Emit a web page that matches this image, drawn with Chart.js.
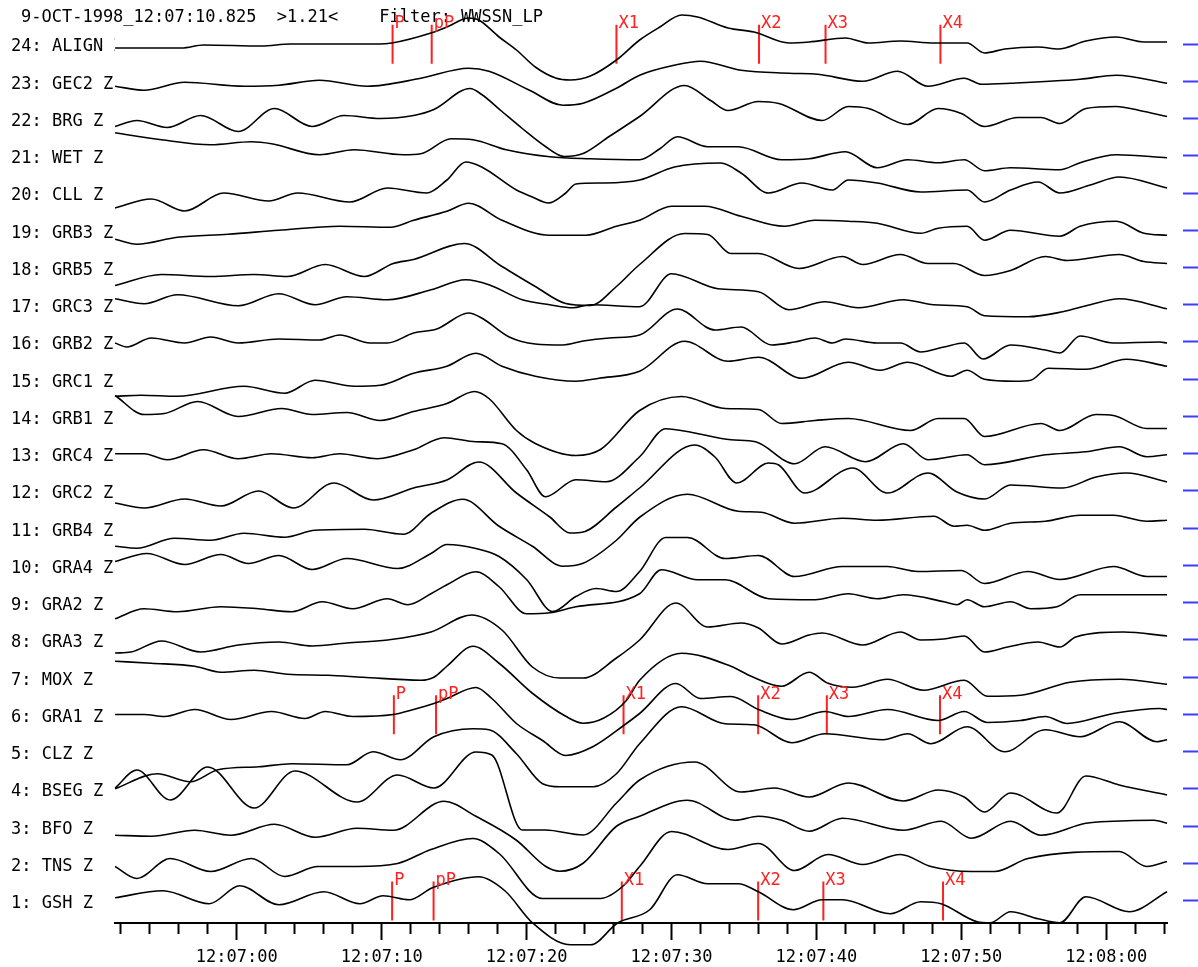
<!DOCTYPE html>
<html><head><meta charset="utf-8">
<script src="https://cdn.jsdelivr.net/npm/chart.js@4.4.1/dist/chart.umd.min.js"></script>
<style>html,body{margin:0;padding:0;background:#fff;}canvas{display:block;}</style>
</head><body>
<canvas id="c" width="1198" height="967"></canvas>
<script>
// ---- header / labels ----
const headerText = "9-OCT-1998_12:07:10.825  >1.21<    Filter: WWSSN_LP";
const stationLabels = ["1: GSH Z","2: TNS Z","3: BFO Z","4: BSEG Z","5: CLZ Z","6: GRA1 Z","7: MOX Z","8: GRA3 Z","9: GRA2 Z","10: GRA4 Z","11: GRB4 Z","12: GRC2 Z","13: GRC4 Z","14: GRB1 Z","15: GRC1 Z","16: GRB2 Z","17: GRC3 Z","18: GRB5 Z","19: GRB3 Z","20: CLL Z","21: WET Z","22: BRG Z","23: GEC2 Z","24: ALIGN Z"];
const traceNumbers = [1,2,3,4,5,6,7,8,9,10,11,12,13,14,15,16,17,18,19,20,21,22,23,24];
// seconds after 12:07:00
const xTickValues = [-8,-6,-4,-2,0,2,4,6,8,10,12,14,16,18,20,22,24,26,28,30,32,34,36,38,40,42,44,46,48,50,52,54,56,58,60,62,64];
const xLabelValues = [0,10,20,30,40,50,60];
const xLabelTexts = ["12:07:00","12:07:10","12:07:20","12:07:30","12:07:40","12:07:50","12:08:00"];

// ---- traces: time (s after 12:07:00) and deflection (counts, up = positive) ----
const gshT = [-8.4,-5.1,-1.9,0.2,2.9,6.0,8.5,10.1,11.9,13.5,16.7,18.5,20.4,23.0,24.4,26.3,28.5,30.4,32.5,34.6,36.0,38.4,40.4,41.8,45.1,47.2,48.6,51.1,52.0,53.4,55.3,56.8,58.6,61.6,64.2];
const gshA = [3,10,-3,15,-4,9,-3,5,1,13,24,10,-22,-44,-44,-22,-9,26,17,17,9,-9,1,1,-13,-1,-3,-21,-22,-11,-18,-22,4,-11,9];
const tnsT = [-8.4,-6.9,-4.6,-1.8,1.0,3.3,5.6,8.3,11.1,13.4,16.3,18.1,21.1,22.7,25.1,26.7,27.8,30.0,33.9,36.0,38.5,40.8,43.2,45.8,47.9,50.7,52.3,54.6,60.9,62.8,64.2];
const tnsA = [-3,-15,5,-8,5,-13,-3,-3,0,14,25,10,-35,-35,-35,-22,-3,32,14,20,-7,9,-1,9,-3,-8,-8,5,12,-3,2];
const bfoT = [-8.4,-5.9,-2.9,-0.4,2.6,5.4,8.3,10.8,14.3,16.5,19.3,21.3,22.3,23.9,26.2,27.8,31.1,34.4,36.0,37.6,39.5,41.8,46.0,48.6,50.7,53.4,55.5,58.6,60.5,63.3,64.2];
const bfoA = [-9,-10,-4,-9,2,-11,-2,-4,25,10,-14,-40,-45,-37,0,10,26,6,10,6,-5,8,-4,5,-12,5,-9,3,5,6,3];
const bsegT = [-8.4,-6.9,-4.6,-2.0,1.2,4.0,8.3,11.1,13.6,16.5,17.6,19.7,21.3,23.9,26.2,27.8,31.6,34.8,37.1,39.5,42.2,46.0,48.4,50.2,51.6,53.4,56.6,58.6,60.9,64.2];
const bsegA = [1,19,-11,22,-19,18,-13,14,1,37,34,-41,-41,-46,-14,9,27,-3,1,-8,6,-12,-1,-8,-23,-4,-24,13,4,-6];
const clzT = [-8.4,-5.5,-3.2,-1.3,1.5,3.8,7.6,9.4,11.3,13.6,16.3,17.4,19.3,21.1,22.3,24.6,26.2,27.8,30.7,33.7,35.7,38.3,40.6,44.6,46.3,47.9,50.4,53.0,55.8,58.2,60.9,63.5,64.2];
const clzA = [-37,-22,-30,-18,-15,-12,-13,0,-8,15,23,22,-2,-32,-35,-35,-22,8,45,28,27,9,18,12,18,8,25,0,22,15,30,10,12];
const gra1T = [-8.4,-6.4,-5.0,-2.9,-0.4,2.4,4.7,6.1,8.0,10.8,12.2,13.6,14.5,16.5,17.6,19.3,21.1,22.7,24.6,26.7,27.8,30.3,32.0,34.1,36.0,38.3,40.6,42.2,44.9,48.4,50.2,51.8,54.1,55.8,57.3,60.5,63.7,64.2];
const gra1A = [0,0,-2,5,-5,3,-4,3,-2,0,5,11,16,27,16,-9,-26,-41,-32,-11,1,31,16,18,5,-5,3,-2,5,-6,3,-8,-6,-2,-9,1,6,5];
const moxT = [-8.4,-5.9,-2.9,-1.1,1.2,3.5,6.3,8.7,12.7,13.6,14.5,16.3,18.1,20.4,22.7,23.9,25.3,26.9,27.8,30.7,34.1,35.5,37.6,39.5,40.8,42.5,44.9,47.4,50.2,51.8,54.1,57.5,61.0,64.2];
const moxA = [16,14,11,5,7,3,2,0,-3,0,11,31,14,-16,-39,-46,-41,-23,-3,24,11,1,-9,5,-6,-10,-2,-13,-3,-19,-18,-5,-2,-7];
const gra3T = [-8.4,-7.3,-5.2,-2.5,0.1,2.9,5.2,7.6,10.4,13.4,16.2,18.3,20.4,22.3,23.9,26.2,27.8,30.3,32.5,34.8,36.0,37.6,39.5,40.4,43.2,45.8,47.2,48.8,50.2,51.6,53.2,55.3,56.8,57.9,61.2,64.2];
const gra3A = [-13,-12,-1,-12,-5,-2,-6,-3,0,8,25,10,-27,-38,-38,-18,0,37,13,17,12,-4,5,7,-5,8,0,1,4,-12,-7,-2,-7,3,8,4];
const gra2T = [-8.4,-6.4,-4.1,-1.1,1.5,3.8,5.9,8.0,10.4,11.8,13.4,14.5,16.5,18.1,20.0,21.6,23.4,27.8,29.3,31.8,33.7,36.7,39.9,42.2,44.2,46.0,48.8,49.7,50.4,51.6,53.4,54.8,56.6,58.2,61.4,64.2];
const gra2A = [-16,-6,-9,-4,-6,-9,1,-6,4,-2,9,18,31,16,-11,-10,-4,9,33,23,23,4,3,9,4,8,1,-2,3,-4,1,-6,-4,8,8,8];
const gra4T = [-8.4,-6.2,-3.6,-1.1,0.8,2.9,5.2,7.6,11.1,13.4,14.5,16.5,18.1,20.0,21.8,23.4,24.8,26.2,27.8,29.6,31.1,33.7,36.0,38.5,41.8,44.9,47.0,50.0,51.6,54.6,56.8,60.5,62.8,64.2];
const gra4A = [4,12,1,11,2,10,-4,7,-3,12,21,17,9,-14,-46,-31,-23,-26,-6,28,28,7,10,-11,-1,-1,-6,-5,-18,-6,-14,-1,-11,-11];
const grb4T = [-8.4,-6.9,-4.3,-1.8,0.5,3.3,5.4,8.8,11.5,13.4,15.6,18.1,20.4,22.5,23.9,26.2,27.8,31.1,34.6,36.2,38.5,41.8,44.2,48.1,49.5,50.4,51.6,53.4,55.8,58.2,60.5,62.8,64.2];
const grb4A = [-18,-20,-10,-12,-5,-9,-2,-1,-6,15,29,2,-18,-38,-35,-12,11,34,17,16,5,10,8,12,2,3,-2,5,7,13,13,7,8];
const grc2T = [-8.4,-6.4,-3.6,-1.1,1.5,3.9,6.7,9.4,12.2,14.5,16.7,19.3,21.6,23.0,23.9,26.2,27.8,31.6,33.0,34.5,36.7,37.4,39.2,42.5,44.9,47.7,49.7,51.6,53.4,57.0,59.3,61.4,64.2];
const grc2A = [-12,-17,-8,-15,0,-17,8,-9,3,11,29,-2,-26,-42,-41,-16,3,46,34,8,28,26,-2,23,-2,18,-1,-8,6,3,14,18,9];
const grc4T = [-8.4,-6.4,-4.8,-2.3,0.1,2.4,5.2,7.1,9.7,12.2,14.3,16.5,18.3,20.0,21.3,23.4,25.5,27.8,29.6,31.5,34.1,35.8,38.5,40.6,43.4,46.0,47.7,50.4,51.6,55.8,58.6,60.9,62.8,64.2];
const grc4A = [0,0,-6,4,-5,0,-4,0,-5,4,16,12,10,-16,-43,-26,-28,-3,25,21,14,12,-10,7,-8,10,-6,-1,-11,-1,2,7,-3,-1];
const grb1T = [-8.4,-6.4,-5.0,-2.7,0.1,3.1,5.2,7.6,9.9,12.2,14.5,16.4,17.4,19.3,20.6,23.4,25.1,27.8,30.7,33.7,36.0,37.6,39.9,42.2,46.5,48.4,50.2,51.6,55.5,56.8,59.3,60.5,62.8,64.2];
const grb1A = [21,2,3,15,0,8,2,4,-4,5,13,25,18,-14,-27,-39,-33,6,20,8,7,-7,-4,-2,-14,-2,-2,-20,-7,-14,2,1,-12,-12];
const grc1T = [-8.4,-6.6,-4.1,0.5,3.3,5.4,8.1,9.9,12.2,14.5,16.5,18.3,20.6,23.4,25.0,27.8,30.9,33.9,36.0,39.0,42.2,44.4,46.3,49.3,50.4,51.6,53.7,54.8,56.0,58.6,61.4,64.2];
const grc1A = [-17,-16,-17,-7,-14,-1,-7,-6,6,13,26,13,3,-2,1,8,38,18,22,1,17,9,17,3,9,0,-2,-1,11,10,20,13];
const grb2T = [-8.4,-7.6,-5.9,-3.6,-1.8,0.1,2.9,5.7,7.1,9.2,10.4,12.2,13.8,16.0,16.9,18.8,20.6,22.5,23.9,25.7,27.8,30.4,33.0,34.8,36.9,38.5,39.9,41.1,42.0,44.2,45.8,47.2,48.8,50.2,51.5,53.4,55.8,56.8,58.2,60.5,63.7,64.2];
const grb2A = [-1,-5,4,-1,5,-1,3,2,7,-1,-1,9,13,29,24,5,-2,-3,1,4,7,33,12,15,-3,0,4,-1,3,-1,-1,-10,-5,-1,-17,-3,-8,-11,6,-1,0,-1];
const grc3T = [-8.4,-6.4,-4.1,0.1,2.9,5.4,7.6,10.4,13.4,15.8,17.4,19.7,21.6,23.2,24.4,27.8,30.0,33.2,36.0,38.1,40.6,42.9,46.0,48.1,50.4,51.6,54.6,57.0,58.9,60.9,64.2];
const grc3A = [6,1,10,-1,11,0,8,5,15,25,20,5,0,-3,0,-2,31,16,13,-5,3,-3,5,0,-2,-11,-12,-7,0,6,-4];
const grb5T = [-8.4,-5.2,-1.8,1.2,3.5,6.1,8.8,10.8,12.2,15.7,18.3,20.6,22.7,24.4,26.2,27.8,30.9,32.5,34.1,36.0,38.8,41.8,43.2,45.8,47.7,49.5,51.6,53.4,55.8,57.3,60.9,62.6,64.2];
const grb5A = [-18,-7,-9,-7,-9,3,-9,4,8,24,1,-19,-36,-38,-19,3,34,33,14,14,-1,11,3,13,4,4,-8,-3,11,7,13,6,4];
const grb3T = [-8.4,-6.9,-4.1,-0.6,2.9,7.1,10.6,12.2,14.5,16.0,18.3,21.6,24.1,26.2,27.8,30.0,32.3,34.8,37.8,39.9,42.2,44.2,47.2,48.4,50.4,51.6,53.4,56.8,58.2,60.7,62.6,64.2];
const grb3A = [-9,-14,-7,-4,0,4,3,10,19,27,10,-5,-5,4,10,24,24,14,4,10,9,7,-3,2,4,-10,0,-6,4,9,-3,-5];
const cllT = [-8.4,-5.9,-3.6,-0.9,2.2,4.2,7.8,10.4,13.1,14.5,15.8,16.9,19.3,20.4,21.5,22.7,23.4,25.3,27.8,30.2,33.4,34.8,36.7,39.0,41.1,42.2,44.2,47.2,50.4,51.6,53.4,55.3,56.8,58.9,60.9,64.2];
const cllA = [-15,-6,-18,0,-8,0,-9,5,0,13,31,26,3,-4,-10,0,9,10,13,26,30,20,0,10,3,13,10,1,3,-9,3,11,0,8,16,5];
const wetT = [-8.4,-5.2,-1.8,1.0,2.4,5.7,8.1,11.5,12.7,14.8,16.3,18.6,21.6,24.4,27.8,29.2,30.4,32.5,34.6,37.6,39.5,42.0,44.2,46.3,48.4,50.2,51.6,53.4,56.8,58.2,60.7,64.2];
const wetA = [23,16,11,14,12,1,6,1,2,17,16,6,-1,-3,-4,7,19,9,9,-4,-3,4,-12,-4,-7,-4,-15,-12,-14,-7,1,-2];
const brgT = [-8.4,-6.9,-4.8,-2.5,0.1,2.6,5.2,7.4,9.9,12.2,13.6,16.1,16.9,18.3,19.7,21.3,22.6,23.9,25.7,27.8,30.9,32.7,33.9,36.0,37.4,40.4,42.2,43.6,46.3,48.4,50.0,51.6,53.9,55.5,56.8,58.6,60.7,62.3,64.2];
const brgA = [-8,-2,-9,3,-13,10,-8,3,0,3,9,30,24,7,-10,-28,-38,-35,-18,2,33,18,8,17,15,-2,12,10,-6,10,5,-8,1,1,-5,10,12,8,2];
const gec2T = [-8.4,-6.4,-3.6,0.5,2.9,5.7,9.0,12.7,16.0,17.4,20.2,22.5,23.9,26.2,27.8,30.2,32.0,34.8,38.1,40.1,43.2,45.6,47.7,50.2,51.4,53.4,58.2,60.7,64.2];
const gec2A = [-5,-9,-1,-5,-4,1,-5,3,13,10,-9,-24,-22,-7,6,16,20,11,8,7,0,10,-5,3,-3,-2,2,6,-2];
const alignT = [-8.4,-3.8,-2.3,1.7,3.7,9.8,10.7,13.4,14.5,16.0,16.7,18.1,19.3,20.6,22.0,23.0,24.4,26.2,27.8,29.2,30.7,31.8,33.9,35.7,38.1,39.5,42.0,43.6,45.8,48.1,50.4,51.6,53.0,55.3,56.7,58.6,60.7,62.6,64.2];
const alignA = [-4,-4,-1,-2,0,0,1,11,17,26,24,7,-6,-23,-34,-36,-32,-16,4,17,29,27,16,12,1,2,6,1,3,1,1,-9,-5,-3,-5,3,7,2,2];

const traceTimes = [gshT,tnsT,bfoT,bsegT,clzT,gra1T,moxT,gra3T,gra2T,gra4T,grb4T,grc2T,grc4T,grb1T,grc1T,grb2T,grc3T,grb5T,grb3T,cllT,wetT,brgT,gec2T,alignT];
const traceAmps  = [gshA,tnsA,bfoA,bsegA,clzA,gra1A,moxA,gra3A,gra2A,gra4A,grb4A,grc2A,grc4A,grb1A,grc1A,grb2A,grc3A,grb5A,grb3A,cllA,wetA,brgA,gec2A,alignA];

// ---- phase picks ----
const pickNames = ["P","pP","X1","X2","X3","X4"];
const picksTrace24 = [10.75,13.45,26.2,36.04,40.63,48.56];
const picksTrace6  = [10.84,13.75,26.69,35.98,40.72,48.53];
const picksTrace1  = [10.72,13.58,26.57,35.98,40.48,48.74];
const pickTraces = [24,6,1];
const pickTimes = [picksTrace24,picksTrace6,picksTrace1];

// ---- build chart ----
const countsPerSpacing = 37.25;
const FONT = '"DejaVu Sans Mono", "Liberation Mono", monospace';
const yMin = 0.40268, yMax = 25.18121;

const datasets = traceNumbers.map((n, i) => ({
  label: stationLabels[i],
  data: traceTimes[i].map((t, k) => ({x: t, y: n + traceAmps[i][k] / countsPerSpacing})),
  borderColor: '#000', borderWidth: 1.6, pointRadius: 0, fill: false,
  cubicInterpolationMode: 'monotone', clip: false
}));
const pickData = [];
pickTraces.forEach((n, g) => pickTimes[g].forEach(t => {
  pickData.push({x: t, y: n - 0.53}, {x: t, y: n + 0.52}, {x: t, y: null});
}));
datasets.push({label: 'picks', data: pickData, borderColor: '#ff2020', borderWidth: 2,
  pointRadius: 0, tension: 0, spanGaps: false, clip: false});

const overlay = {
  id: 'overlay',
  beforeDatasetsDraw(chart) {
    const ctx = chart.ctx;
    ctx.save();
    ctx.font = '17px ' + FONT;
    ctx.fillStyle = '#000';
    ctx.textBaseline = 'middle';
    ctx.textAlign = 'left';
    ctx.fillText(headerText, 21, 17.5);
    ctx.restore();
  },
  afterDatasetsDraw(chart) {
    const {ctx, scales} = chart;
    ctx.save();
    ctx.font = '17px ' + FONT;
    ctx.fillStyle = '#ff2020';
    ctx.textBaseline = 'middle';
    ctx.textAlign = 'left';
    pickTraces.forEach((n, g) => pickTimes[g].forEach((t, k) => {
      const px = scales.x.getPixelForValue(t);
      const py = scales.y.getPixelForValue(n + 0.52);
      ctx.fillText(pickNames[k], px + 2, py - 1);
    }));
    ctx.restore();
  }
};

Chart.defaults.font.family = FONT;
Chart.defaults.font.size = 17;
Chart.defaults.color = '#000';

const noVPad = s => { s.paddingTop = 0; s.paddingBottom = 0; };

new Chart(document.getElementById('c'), {
  type: 'line',
  data: {datasets},
  options: {
    responsive: false, animation: false, devicePixelRatio: 1, events: [],
    layout: {padding: {left: 11, top: 0, right: 0, bottom: 0}},
    plugins: {legend: {display: false}, tooltip: {enabled: false}, title: {display: false}},
    scales: {
      x: {
        type: 'linear', position: 'bottom', min: -8.406, max: 64.196,
        afterBuildTicks: s => { s.ticks = xTickValues.map(v => ({value: v})); },
        afterFit: s => { s.height = 44; s.paddingLeft = 0; s.paddingRight = 0; },
        grid: {display: true, drawOnChartArea: false, drawTicks: true, tickLength: 17, tickWidth: 2, tickColor: '#000',
          tickBorderDash: c => (c.tick && c.tick.value % 10 === 0) ? [] : [10, 40]},
        border: {display: true, color: '#000', width: 2},
        ticks: {autoSkip: false, maxRotation: 0, minRotation: 0, padding: 7, color: '#000',
          callback: v => { const i = xLabelValues.indexOf(v); return i >= 0 ? xLabelTexts[i] : ''; }}
      },
      y: {
        type: 'linear', position: 'left', min: yMin, max: yMax,
        afterBuildTicks: s => { s.ticks = traceNumbers.map(v => ({value: v})); },
        afterFit: s => { s.width = 104; noVPad(s); },
        grid: {display: false},
        border: {display: false},
        ticks: {autoSkip: false, crossAlign: 'far', labelOffset: 3, color: '#000',
          callback: v => stationLabels[v - 1]}
      },
      y2: {
        type: 'linear', position: 'right', min: yMin, max: yMax,
        afterBuildTicks: s => { s.ticks = traceNumbers.map(v => ({value: v})); },
        afterFit: s => { s.width = 31; noVPad(s); },
        grid: {display: true, drawOnChartArea: false, drawTicks: true, tickLength: 31, tickWidth: 2,
          tickColor: '#3c3cff', tickBorderDash: [0, 16, 15, 0]},
        border: {display: false},
        ticks: {display: false}
      }
    }
  },
  plugins: [overlay]
});
</script>
</body></html>
